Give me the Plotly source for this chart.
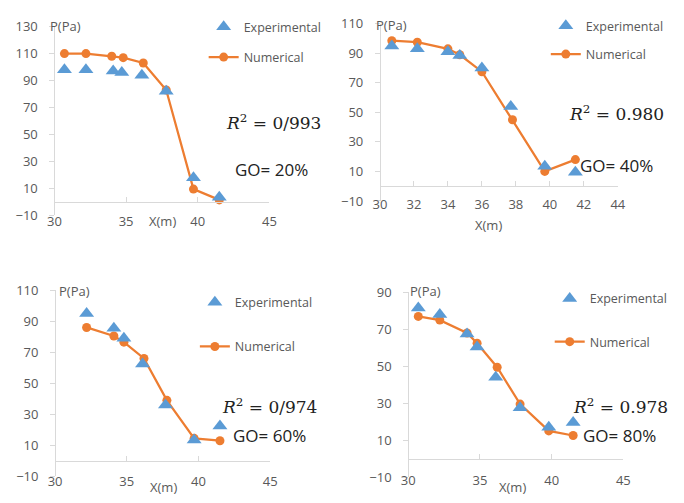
import plotly.graph_objects as go

# ---------------- data ----------------
x_exp_20 = [30.7, 32.2, 34.1, 34.7, 36.1, 37.8, 39.7, 41.5]
p_exp_20 = [98, 98, 97, 96, 94, 82, 18, 3.5]
x_num_20 = [30.7, 32.2, 34.0, 34.8, 36.2, 37.8, 39.7, 41.5]
p_num_20 = [110, 110, 108, 107, 103, 83, 9.5, 1.5]

x_exp_40 = [30.7, 32.2, 34.0, 34.7, 36.0, 37.7, 39.7, 41.5]
p_exp_40 = [95, 93, 91, 88.5, 80, 54, 13.5, 9.5]
x_num_40 = [30.7, 32.2, 34.0, 34.7, 36.0, 37.8, 39.7, 41.5]
p_num_40 = [98.5, 97.5, 93, 89, 77.5, 45, 10, 18]

x_exp_60 = [32.2, 34.1, 34.8, 36.1, 37.7, 39.7, 41.5]
p_exp_60 = [95, 85.5, 79, 62.5, 36, 13.5, 22.5]
x_num_60 = [32.2, 34.1, 34.8, 36.2, 37.8, 39.7, 41.5]
p_num_60 = [86, 80.5, 76.5, 66, 39, 14.5, 13]

x_exp_80 = [30.7, 32.2, 34.1, 34.8, 36.1, 37.8, 39.8, 41.5]
p_exp_80 = [81.5, 78, 67.5, 60.5, 44, 27.5, 17, 19.5]
x_num_80 = [30.7, 32.2, 34.1, 34.8, 36.2, 37.8, 39.8, 41.5]
p_num_80 = [77, 75, 68, 62.5, 49.5, 29.5, 15, 12.5]

go_labels = ["GO= 20%", "GO= 40%", "GO= 60%", "GO= 80%"]
r2_labels = ["0/993", "0.980", "0/974", "0.978"]
x_ranges = [[30, 45], [30, 44], [30, 45], [30, 45]]
x_dticks = [5, 2, 5, 5]
y_ranges = [[-10, 130], [-10, 110], [-10, 110], [-10, 90]]

series = [
    (x_exp_20, p_exp_20, x_num_20, p_num_20),
    (x_exp_40, p_exp_40, x_num_40, p_num_40),
    (x_exp_60, p_exp_60, x_num_60, p_num_60),
    (x_exp_80, p_exp_80, x_num_80, p_num_80),
]

# ---------------- layout geometry (page pixels) ----------------
PAGE_W, PAGE_H = 684, 503
OFF = 8                      # default body margin of the html page
W, H = PAGE_W - 2 * OFF, PAGE_H - 2 * OFF
BLUE = "#5B9BD5"
ORANGE = "#ED7D31"
GRAY = "#595959"
AXIS = "#D9D9D9"
FONT = "Open Sans"

geom = [
    dict(x0=48.3, x1=268.3, yt=18, yb=214, xlab=220, ptitle=(60, 17), xt=(159, 220),
         r2=(272, 117), go=(270, 166), leg=(229, 18), gap=11),
    dict(x0=381.3, x1=624.7, yt=15, yb=199, xlab=202, ptitle=(393, 16), xt=(492, 224),
         r2=(623, 108), go=(623, 162), leg=(579, 17), gap=9),
    dict(x0=49, x1=269, yt=291.7, yb=485, xlab=489, ptitle=(69, 292), xt=(160, 496),
         r2=(268, 412), go=(268, 443), leg=(220, 304), gap=25),
    dict(x0=410.3, x1=630.3, yt=294, yb=485.7, xlab=488, ptitle=(428, 292), xt=(517, 496),
         r2=(627, 412), go=(626, 443), leg=(583, 300), gap=24),
]

def fx(px):
    return (px - OFF) / W

def fy(py):
    return 1 - (py - OFF) / H

fig = go.Figure()
layout = dict(
    width=W, height=H, margin=dict(l=0, r=0, t=0, b=0),
    paper_bgcolor="white", plot_bgcolor="rgba(0,0,0,0)",
    showlegend=True, font=dict(family=FONT, color=GRAY, size=13),
)
annotations = []

for i in range(4):
    g = geom[i]
    xe, pe, xn, pn = series[i]
    sfx = "" if i == 0 else str(i + 1)
    lab_ax = str(i + 5)
    leg = "legend" if i == 0 else f"legend{i + 1}"
    ymin, ymax = y_ranges[i]
    y0_px = g["yb"] - (0 - ymin) / (ymax - ymin) * (g["yb"] - g["yt"])

    fig.add_trace(go.Scatter(
        x=xn, y=pn, mode="lines+markers", name="Numerical",
        line=dict(color=ORANGE, width=2.25), marker=dict(size=9, color=ORANGE),
        xaxis="x" + sfx, yaxis="y" + sfx, legend=leg,
        legendgroup=f"num{i}", legendrank=2, hoverinfo="skip"))
    fig.add_trace(go.Scatter(
        x=xe, y=pe, mode="markers", name="Experimental",
        marker=dict(symbol="triangle-up", size=13, color=BLUE),
        xaxis="x" + sfx, yaxis="y" + sfx, legend=leg,
        legendgroup=f"exp{i}", legendrank=1, hoverinfo="skip"))
    # empty trace so the tick-label axis is drawn
    fig.add_trace(go.Scatter(
        x=x_ranges[i], y=[None, None], mode="markers", showlegend=False,
        xaxis="x" + lab_ax, yaxis="y" + sfx, hoverinfo="skip"))

    dom_x = [fx(g["x0"]), fx(g["x1"])]
    layout["xaxis" + sfx] = dict(
        domain=dom_x, range=x_ranges[i], dtick=x_dticks[i], tick0=30,
        anchor="free", position=fy(y0_px),
        showline=True, linecolor=AXIS, linewidth=1,
        ticks="inside", ticklen=5, tickcolor=AXIS,
        showticklabels=False, showgrid=False, zeroline=False, fixedrange=True)
    layout["xaxis" + lab_ax] = dict(
        domain=dom_x, range=x_ranges[i], dtick=x_dticks[i], tick0=30,
        overlaying="x" + sfx, anchor="free", position=fy(g["xlab"] - 9),
        showline=False, ticks="", showticklabels=True, showgrid=False,
        zeroline=False, tickfont=dict(family=FONT, color=GRAY, size=13))
    layout["yaxis" + sfx] = dict(
        domain=[fy(g["yb"]), fy(g["yt"])], range=y_ranges[i], dtick=20, tick0=-10,
        anchor="free", position=fx(g["x0"]),
        showline=True, linecolor=AXIS, linewidth=1,
        ticks="outside", ticklen=5, tickcolor=AXIS, ticklabelstandoff=9,
        showgrid=False, zeroline=False,
        tickfont=dict(family=FONT, color=GRAY, size=13))
    layout[leg] = dict(
        x=fx(g["leg"][0] - 28), y=fy(g["leg"][1] - 15), xanchor="left", yanchor="top",
        bgcolor="rgba(0,0,0,0)", borderwidth=0, traceorder="grouped",
        tracegroupgap=g["gap"], font=dict(family=FONT, color=GRAY, size=12.5))

    annotations += [
        dict(text="P(Pa)", x=fx(g["ptitle"][0]), y=fy(g["ptitle"][1]),
             font=dict(family=FONT, color=GRAY, size=13)),
        dict(text="X(m)", x=fx(g["xt"][0]), y=fy(g["xt"][1]),
             font=dict(family=FONT, color=GRAY, size=13)),
        dict(text="<i>R</i><sup>2</sup> = " + r2_labels[i], x=fx(g["r2"][0]), y=fy(g["r2"][1]),
             font=dict(family="DejaVu Serif", color="#222222", size=17)),
        dict(text=go_labels[i], x=fx(g["go"][0]), y=fy(g["go"][1]),
             font=dict(family=FONT, color="#222222", size=17)),
    ]

for a in annotations:
    a.update(xref="paper", yref="paper", showarrow=False, xanchor="center", yanchor="middle")
layout["annotations"] = annotations

fig.update_layout(**layout)
fig.write_html("out.html", config={"displayModeBar": False})
